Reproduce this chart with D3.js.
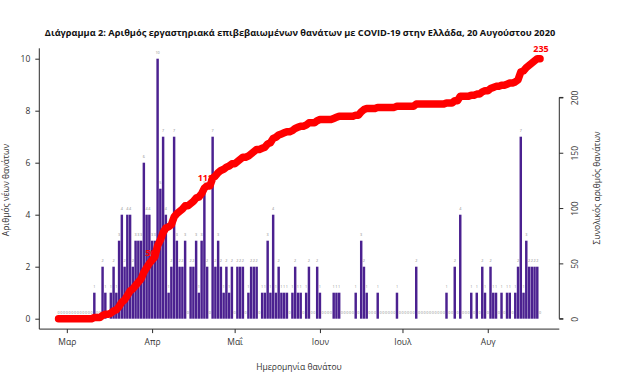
<!DOCTYPE html>
<html>
<head>
<meta charset="utf-8">
<script src="https://cdn.jsdelivr.net/npm/d3@7"></script>
<style>
  body { margin: 0; background: #fff; }
  svg { display: block; }
  text { font-family: "Open Sans", "Noto Sans", sans-serif; }
</style>
</head>
<body>
<svg id="chart" width="641" height="378"></svg>
<script>
// Daily new deaths (first day is 27 Feb 2020)
const startDate = new Date(2020, 1, 27);
const deathsFeb = [0, 0, 0];
const deathsMar = [0,0,0,0,0,0,0,0,0,0, 1,0,0,2,1,0,1,2,1,3, 4,2,4,4,2,3,3,3,6,4, 4];
const deathsApr = [3,3,10,5,7,4,1,2,7,3, 2,2,3,0,2,2,3,1,3,5, 2,0,7,2,3,2,1,2,1,2];
const deathsMay = [0,2,2,2,0,1,2,2,2,0, 1,1,3,1,4,1,2,1,1,1, 0,1,2,1,1,0,1,2,0,0, 2];
const deathsJun = [1,0,0,0,0,1,1,1,0,0, 0,0,0,1,0,3,2,1,0,0, 0,1,0,0,0,0,0,0,1,0];
const deathsJul = [0,0,0,0,0,2,0,0,0,0, 0,0,0,0,0,0,1,0,0,2, 0,4,0,0,0,1,0,1,0,2, 1];
const deathsAug = [0,2,1,1,0,1,0,1,1,0, 1,2,7,1,3,2,2,2,2,0];

const monthLabels = ["Μαρ", "Απρ", "Μαΐ", "Ιουν", "Ιουλ", "Αυγ"];
const monthTicks = [2, 3, 4, 5, 6, 7].map(m => new Date(2020, m, 1));
const leftTicks = [0, 2, 4, 6, 8, 10];
const rightTicks = [0, 50, 100, 150, 200];
// days whose running total gets a red label
const labelledDays = [new Date(2020, 2, 31), new Date(2020, 3, 20), new Date(2020, 7, 20)];

const titleText = "Διάγραμμα 2: Αριθμός εργαστηριακά επιβεβαιωμένων θανάτων με COVID-19 στην Ελλάδα, 20 Αυγούστου 2020";

const daily = [].concat(deathsFeb, deathsMar, deathsApr, deathsMay, deathsJun, deathsJul, deathsAug);
let running = 0;
const days = daily.map((v, i) => {
    running += v;
    return {date: d3.timeDay.offset(startDate, i), value: v, total: running};
});
const maxTotal = running;

const barColor = "#4b2190";
const lineColor = "#ff0000";
const axisColor = "#2b2b2b";

// plot region (R style, 4% padding on both axes)
const plotLeft = 39.3, plotRight = 559.3, plotTop = 48.3, plotBottom = 329.1;

const first = days[0].date, last = days[days.length - 1].date;
const pad = (last - first) * 0.04;
const x = d3.scaleTime()
    .domain([new Date(+first - pad), new Date(+last + pad)])
    .range([plotLeft, plotRight]);
const yLeft = d3.scaleLinear().domain([-0.4, 10.4]).range([plotBottom, plotTop]);
const yRight = d3.scaleLinear().domain([-0.04 * maxTotal, 1.04 * maxTotal]).range([plotBottom, plotTop]);

const step = x(d3.timeDay.offset(first, 1)) - x(first);

const svg = d3.select("#chart");
svg.append("rect").attr("width", 641).attr("height", 378).attr("fill", "#fff");

// Title, squeezed to the reference width
const title = svg.append("text")
    .attr("x", 300).attr("y", 36)
    .attr("text-anchor", "middle")
    .attr("font-weight", "bold")
    .attr("font-size", 10)
    .attr("fill", "#111")
    .text(titleText);
const tw = title.node().getComputedTextLength();
title.attr("font-size", 10 * 511 / tw);

// Bars
svg.append("g").selectAll("rect")
    .data(days.filter(d => d.value > 0))
    .join("rect")
    .attr("x", d => x(d.date) - step / 2 + 0.15)
    .attr("width", step - 0.3)
    .attr("y", d => yLeft(d.value))
    .attr("height", d => yLeft(0) - yLeft(d.value))
    .attr("fill", barColor);

// tiny value labels above each bar
svg.append("g").selectAll("text")
    .data(days)
    .join("text")
    .attr("x", d => x(d.date))
    .attr("y", d => yLeft(d.value) - 4.6)
    .attr("text-anchor", "middle")
    .attr("font-size", 3.8)
    .attr("fill", "#8a8a8a")
    .text(d => d.value);

// Running total
const line = d3.line()
    .x(d => x(d.date))
    .y(d => yRight(d.total));
svg.append("path")
    .datum(days)
    .attr("d", line)
    .attr("fill", "none")
    .attr("stroke", lineColor)
    .attr("stroke-width", 7.5)
    .attr("stroke-linejoin", "round")
    .attr("stroke-linecap", "round");

svg.append("g").selectAll("text")
    .data(days.filter(d => labelledDays.some(t => +t === +d.date)))
    .join("text")
    .attr("x", d => x(d.date) + 1)
    .attr("y", d => yRight(d.total) - 7)
    .attr("text-anchor", "middle")
    .attr("font-size", 9)
    .attr("font-weight", "bold")
    .attr("fill", lineColor)
    .text(d => d.total);

// Box (left + bottom)
svg.append("path")
    .attr("d", `M${plotLeft},${plotTop}V${plotBottom}H${plotRight}`)
    .attr("fill", "none")
    .attr("stroke", axisColor)
    .attr("stroke-width", 1);

// Left axis
const gl = svg.append("g").attr("transform", `translate(${plotLeft},0)`)
    .call(d3.axisLeft(yLeft).tickValues(leftTicks).tickSize(4).tickPadding(5));
gl.select(".domain").remove();

// Bottom axis
const gb = svg.append("g").attr("transform", `translate(0,${plotBottom})`)
    .call(d3.axisBottom(x).tickValues(monthTicks).tickSize(4).tickPadding(6)
        .tickFormat((d, i) => monthLabels[i]));
gb.select(".domain").remove();

// Right axis (line only between first and last tick)
const gr = svg.append("g").attr("transform", `translate(${plotRight},0)`)
    .call(d3.axisRight(yRight).tickValues(rightTicks).tickSize(4).tickPadding(8));
gr.select(".domain")
    .attr("d", `M4,${yRight(0)}H0V${yRight(200)}H4`);
gr.selectAll(".tick text")
    .attr("transform", "rotate(-90)")
    .attr("x", 0).attr("dy", 0).attr("y", 19)
    .attr("text-anchor", "middle");

[gl, gb, gr].forEach(g => {
    g.selectAll("line, path").attr("stroke", axisColor);
    g.selectAll("text")
        .attr("font-family", "\"Open Sans\", sans-serif")
        .attr("font-size", 8.5)
        .attr("fill", "#333");
});

// Axis titles
svg.append("text")
    .attr("x", 299).attr("y", 370)
    .attr("text-anchor", "middle")
    .attr("font-size", 8.5).attr("fill", "#333")
    .text("Ημερομηνία θανάτου");
svg.append("text")
    .attr("transform", "translate(9,190) rotate(-90)")
    .attr("text-anchor", "middle")
    .attr("font-size", 8.5).attr("fill", "#333")
    .text("Αριθμός νέων θανάτων");
svg.append("text")
    .attr("transform", "translate(600,188) rotate(-90)")
    .attr("text-anchor", "middle")
    .attr("font-size", 8.5).attr("fill", "#333")
    .text("Συνολικός αριθμός θανάτων");
</script>
</body>
</html>
